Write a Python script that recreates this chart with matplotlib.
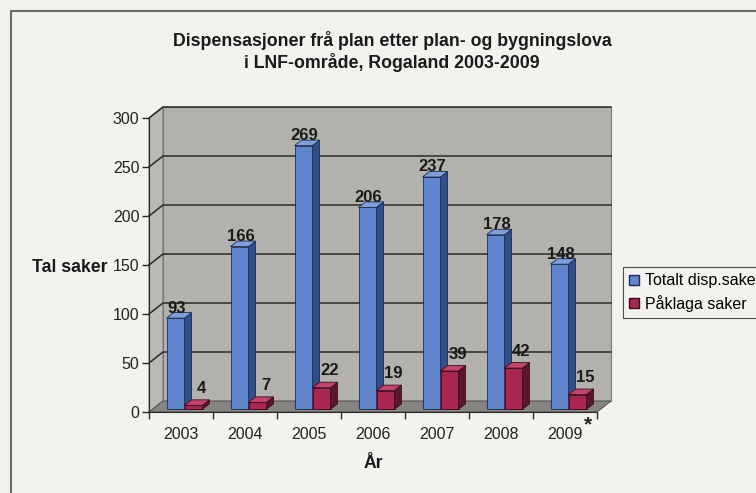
import matplotlib.pyplot as plt
from matplotlib.patches import Polygon, Patch
import numpy as np

years = ["2003", "2004", "2005", "2006", "2007", "2008", "2009"]
totalt = [93, 166, 269, 206, 237, 178, 148]
paklaga = [4, 7, 22, 19, 39, 42, 15]

plt.rcParams['font.family'] = ['Liberation Sans', 'DejaVu Sans']

fig = plt.figure(figsize=(7.56, 4.93), dpi=100, facecolor='#f3f2ef')
# axes = front face of the 3d box, in pixel terms 149..597 x 118..412
ax = fig.add_axes([149/756, 1 - 412/493, 448/756, 294/493])
ax.set_xlim(0, 7)
ax.set_ylim(0, 300)
ax.patch.set_visible(False)

# data units per pixel
ux = 7 / 448
uy = 300 / 294
DX, DY = 14 * ux, 11 * uy  # depth of the box

wall = '#b3b1ab'
floor = '#858581'
line = '#2a2a2a'

# walls and floor
ax.add_patch(Polygon([(0, 0), (DX, DY), (DX, 300 + DY), (0, 300)], closed=True,
                     facecolor='#bbb9b3', edgecolor='#777', lw=0.8, clip_on=False, zorder=0))
ax.add_patch(Polygon([(DX, DY), (7 + DX, DY), (7 + DX, 300 + DY), (DX, 300 + DY)], closed=True,
                     facecolor=wall, edgecolor='#777', lw=0.8, clip_on=False, zorder=0))
ax.add_patch(Polygon([(0, 0), (7, 0), (7 + DX, DY), (DX, DY)], closed=True,
                     facecolor=floor, edgecolor='#555', lw=0.8, clip_on=False, zorder=0.5))
for v in range(50, 301, 50):
    ax.plot([0, DX, 7 + DX], [v, v + DY, v + DY], color=line, lw=1.1,
            clip_on=False, zorder=0.6)

# 3d bars
f = 0.25            # front face sits a quarter into the depth
bdx, bdy = 7 * ux, 5.5 * uy
bw = 18 * ux
gap = (1 - 2 * bw) / 2

series = [
    (totalt, 0, '#5f86cc', '#2f4e8a', '#7da0dc', '#1c2c50', 1),
    (paklaga, 1, '#a8264f', '#5a1530', '#c4446c', '#3a0c1c', 8),
]
x = np.arange(len(years))
for i in x:
    for vals, k, cf, cs, ct, ce, lx in series:
        v = vals[i]
        left = i + gap + k * bw + f * DX
        bot = f * DY
        ax.bar(left, v, width=bw, bottom=bot, align='edge', color=cf,
               edgecolor=ce, lw=0.6, zorder=2 + i)
        r = left + bw
        top = bot + v
        ax.add_patch(Polygon([(r, bot), (r + bdx, bot + bdy), (r + bdx, top + bdy), (r, top)],
                             closed=True, facecolor=cs, edgecolor=ce, lw=0.6, zorder=2 + i, clip_on=False))
        ax.add_patch(Polygon([(left, top), (r, top), (r + bdx, top + bdy), (left + bdx, top + bdy)],
                             closed=True, facecolor=ct, edgecolor=ce, lw=0.6, zorder=2 + i, clip_on=False))
        ax.annotate(str(v), (left + bw / 2, top), xytext=(lx, 10 if k == 0 else 17),
                    textcoords='offset pixels', ha='center', va='center',
                    fontsize=12, fontweight='bold', color='#1a1a1a',
                    zorder=20, annotation_clip=False)

# axes styling
for s in ['top', 'right']:
    ax.spines[s].set_visible(False)
ax.spines['left'].set_color(line)
ax.spines['bottom'].set_color(line)
ax.spines['left'].set_zorder(1)
ax.set_yticks(range(0, 301, 50))
ax.tick_params(axis='y', length=5, width=1, color=line, labelsize=11.5,
               labelcolor='#222', pad=2)
ax.set_xticks(range(0, 8))
ax.set_xticklabels([])
ax.tick_params(axis='x', which='major', length=5, width=1, color=line)
ax.set_xticks(x + 0.5, minor=True)
ax.set_xticklabels(years, minor=True)
ax.tick_params(axis='x', which='minor', length=0, pad=11, labelsize=11.5, labelcolor='#222')

ax.annotate('*', (6.5, 0), xytext=(23, -13), textcoords='offset pixels',
            ha='center', va='center', fontsize=15, fontweight='bold',
            color='#222', annotation_clip=False)

# titles
fig.text(392/756, 1 - 40/493, "Dispensasjoner frå plan etter plan- og bygningslova",
         ha='center', va='center', fontsize=12.8, fontweight='bold', color='#1a1a1a')
fig.text(392/756, 1 - 63/493, "i LNF-område, Rogaland 2003-2009",
         ha='center', va='center', fontsize=12.8, fontweight='bold', color='#1a1a1a')
fig.text(108/756, 1 - 268/493, "Tal saker", ha='right', va='center',
         fontsize=12.7, fontweight='bold', color='#1a1a1a')
fig.text(373/756, 1 - 463/493, "År", ha='center', va='center',
         fontsize=12.7, fontweight='bold', color='#1a1a1a')

# legend (runs off the right edge, as in the original scan)
handles = [Patch(facecolor='#5f86cc', edgecolor='#1c2c50', label='Totalt disp.saker'),
           Patch(facecolor='#a8264f', edgecolor='#3a0c1c', label='Påklaga saker')]
leg = fig.legend(handles=handles, loc='upper left', bbox_to_anchor=(623/756, 1 - 267/493),
                 frameon=True, fancybox=False, fontsize=11.5, handlelength=0.6,
                 handleheight=0.6, handletextpad=0.4, borderpad=0.4, labelspacing=0.4,
                 borderaxespad=0)
leg.get_frame().set_edgecolor('#222')
leg.get_frame().set_linewidth(0.8)
leg.get_frame().set_facecolor('#f3f2ef')

# outer chart border
fig.add_artist(plt.Line2D([11/756, 11/756, 1], [0, 1 - 11/493, 1 - 11/493],
                          transform=fig.transFigure, color='#6a6a6a', lw=1.5))

fig.savefig('out.png', dpi=100, facecolor=fig.get_facecolor())
